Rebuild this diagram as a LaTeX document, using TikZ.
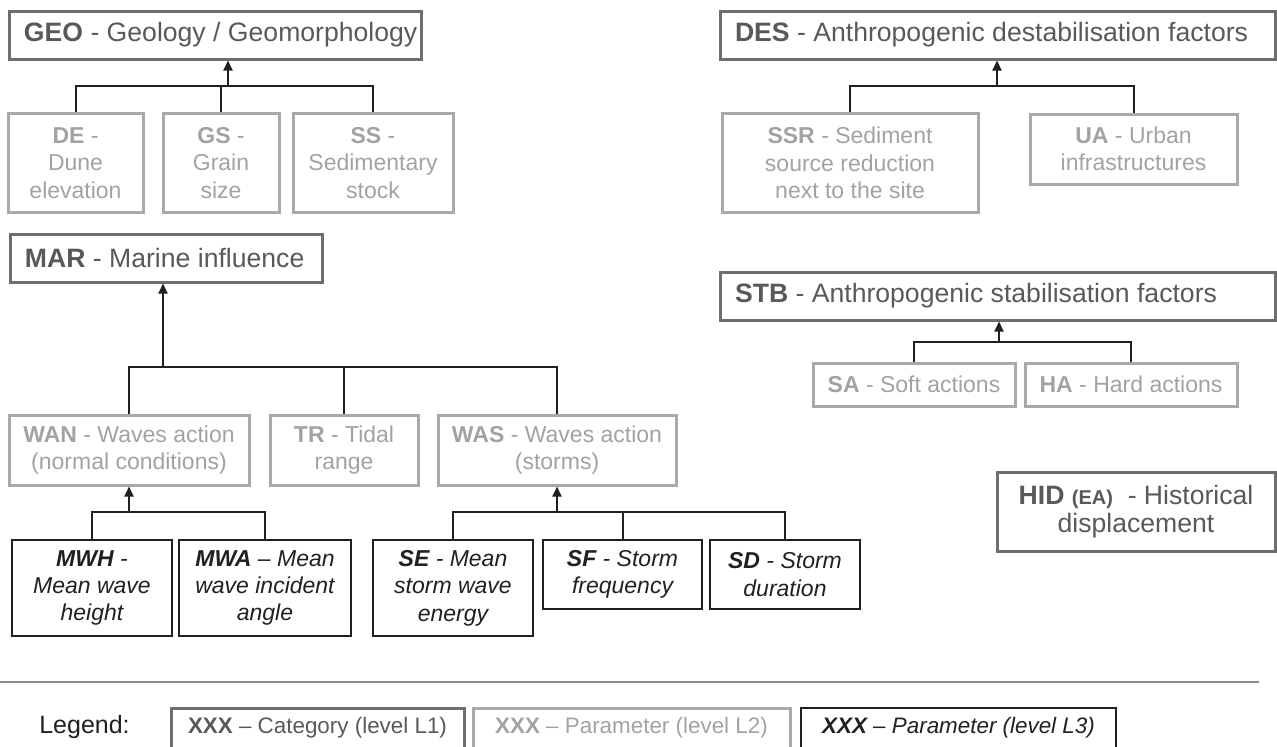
\documentclass[tikz,border=0pt]{standalone}
\usepackage{fontspec}
\setmainfont{Liberation Sans}
\usetikzlibrary{arrows.meta}
\definecolor{catgray}{HTML}{6D6E71}
\definecolor{cattext}{HTML}{58595B}
\definecolor{pargray}{HTML}{A7A9AC}
\definecolor{partext}{HTML}{A0A2A5}
\definecolor{subblack}{HTML}{231F20}
\definecolor{rulegray}{HTML}{8A8B8D}

\begin{document}
\begin{tikzpicture}[x=0.5pt,y=-0.5pt,
   every node/.style={align=center,inner sep=0pt,font=\fontsize{13.3}{13.7}\selectfont},
   lvlone/.style={draw=catgray,line width=1.5pt,text=cattext},
   head/.style={lvlone,inner xsep=7.5pt,minimum height=24pt},
   lvltwo/.style={draw=pargray,line width=1.5pt,text=partext,font=\fontsize{11.5}{13.7}\selectfont},
   lvlthree/.style={draw=subblack,line width=1.2pt,text=subblack,font=\fontsize{11.5}{13.7}\selectfont,execute at begin node=\itshape},
   keyfont/.style={font=\fontsize{11.2}{13}\selectfont,minimum height=20pt},
   link/.style={draw=subblack,line width=1pt},
   up/.style={link,-{Triangle[length=5pt,width=4.5pt]}}]

\useasboundingbox (0,0) rectangle (1277,746);

\node[head] (GEO) at (215,35) {\makebox[191pt][l]{\textbf{GEO} - Geology / Geomorphology}};
\node[head] (DES) at (997.5,35) {\makebox[262.5pt][l]{\textbf{DES} - Anthropogenic destabilisation factors}};
\node[lvltwo,minimum width=67.5pt,minimum height=49.5pt] (DE) at (75.5,163) {\textbf{DE} -\\Dune\\elevation};
\node[lvltwo,minimum width=58pt,minimum height=49.5pt] (GS) at (221,163) {\textbf{GS} -\\Grain\\size};
\node[lvltwo,minimum width=80pt,minimum height=49.5pt] (SS) at (373,163) {\textbf{SS} -\\Sedimentary\\stock};
\node[lvltwo,minimum width=128pt,minimum height=49.5pt] (SSR) at (850,163) {\textbf{SSR} - Sediment\\source reduction\\next to the site};
\node[lvltwo,minimum width=103.5pt,minimum height=35pt] (UA) at (1133.5,149) {\textbf{UA} - Urban\\infrastructures};

\node[head] (MAR) at (166,258) {\makebox[141pt][l]{\textbf{MAR} - Marine influence}};
\node[head] (STB) at (997.5,296) {\makebox[262.5pt][l]{\textbf{STB} - Anthropogenic stabilisation factors}};
\node[lvltwo,minimum width=101pt,minimum height=21.5pt] (SA) at (914,384.5) {\textbf{SA} - Soft actions};
\node[lvltwo,minimum width=106pt,minimum height=21.5pt] (HA) at (1131,384.5) {\textbf{HA} - Hard actions};
\node[lvlone,minimum width=139pt,minimum height=39.5pt] (HID) at (1136,511.5) {\textbf{HID} {\fontsize{10}{12}\selectfont\bfseries(EA)}\ \ - Historical\\displacement};

\node[lvltwo,minimum width=120pt,minimum height=35pt] (WAN) at (129,450) {\textbf{WAN} - Waves action\\(normal conditions)};
\node[lvltwo,minimum width=74pt,minimum height=35pt] (TR) at (344,450) {\textbf{TR} - Tidal\\range};
\node[lvltwo,minimum width=119pt,minimum height=35pt] (WAS) at (557,450) {\textbf{WAS} - Waves action\\(storms)};

\node[lvlthree,minimum width=80pt,minimum height=48pt] (MWH) at (92,588) {\textbf{MWH} -\\Mean wave\\height};
\node[lvlthree,minimum width=86pt,minimum height=48pt] (MWA) at (265,588) {\textbf{MWA} – Mean\\wave incident\\angle};
\node[lvlthree,minimum width=80pt,minimum height=48pt] (SE) at (453,588) {\textbf{SE} - Mean\\storm wave\\energy};
\node[lvlthree,minimum width=79.5pt,minimum height=34.5pt] (SF) at (622.5,574.5) {\textbf{SF} - Storm\\frequency};
\node[lvlthree,minimum width=75pt,minimum height=34.5pt] (SD) at (785,574.5) {\textbf{SD} - Storm\\duration};

\coordinate (geoj) at (228,86);
\coordinate (desj) at (997,86);
\coordinate (marj) at (163,367);
\coordinate (stbj) at (999,342);
\coordinate (wanj) at (129,512);
\coordinate (wasj) at (557,512);

\draw[link] (DE.north) -- (DE.north |- geoj) -- (SS.north |- geoj) -- (SS.north);
\draw[link] (GS.north) -- (GS.north |- geoj);
\draw[up] (geoj) -- (geoj |- GEO.south);

\draw[link] (SSR.north) -- (SSR.north |- desj) -- (UA.north |- desj) -- (UA.north);
\draw[up] (desj) -- (desj |- DES.south);

\draw[link] (WAN.north) -- (WAN.north |- marj) -- (WAS.north |- marj) -- (WAS.north);
\draw[link] (TR.north) -- (TR.north |- marj);
\draw[up] (marj) -- (marj |- MAR.south);

\draw[link] (SA.north) -- (SA.north |- stbj) -- (HA.north |- stbj) -- (HA.north);
\draw[up] (stbj) -- (stbj |- STB.south);

\draw[link] (MWH.north) -- (MWH.north |- wanj) -- (MWA.north |- wanj) -- (MWA.north);
\draw[up] (wanj) -- (wanj |- WAN.south);

\draw[link] (SE.north) -- (SE.north |- wasj) -- (SD.north |- wasj) -- (SD.north);
\draw[link] (SF.north) -- (SF.north |- wasj);
\draw[up] (wasj) -- (wasj |- WAS.south);

\coordinate (sepl) at (0,682);
\coordinate (sepr) at (1259,682);
\draw[rulegray,line width=1pt] (sepl) -- (sepr);

\node[font=\fontsize{12.5}{14}\selectfont,text=subblack] (legend) at (84.5,727) {Legend:};
\node[lvlone,keyfont,minimum width=146.5pt] (keyone) at (317.5,728) {\textbf{XXX} – Category (level L1)};
\node[lvltwo,keyfont,minimum width=158.5pt] (keytwo) at (631.5,728) {\textbf{XXX} – Parameter (level L2)};
\node[lvlthree,keyfont,minimum width=157.5pt] (keythree) at (958.5,728) {\textbf{XXX} – Parameter (level L3)};

\end{tikzpicture}
\end{document}
